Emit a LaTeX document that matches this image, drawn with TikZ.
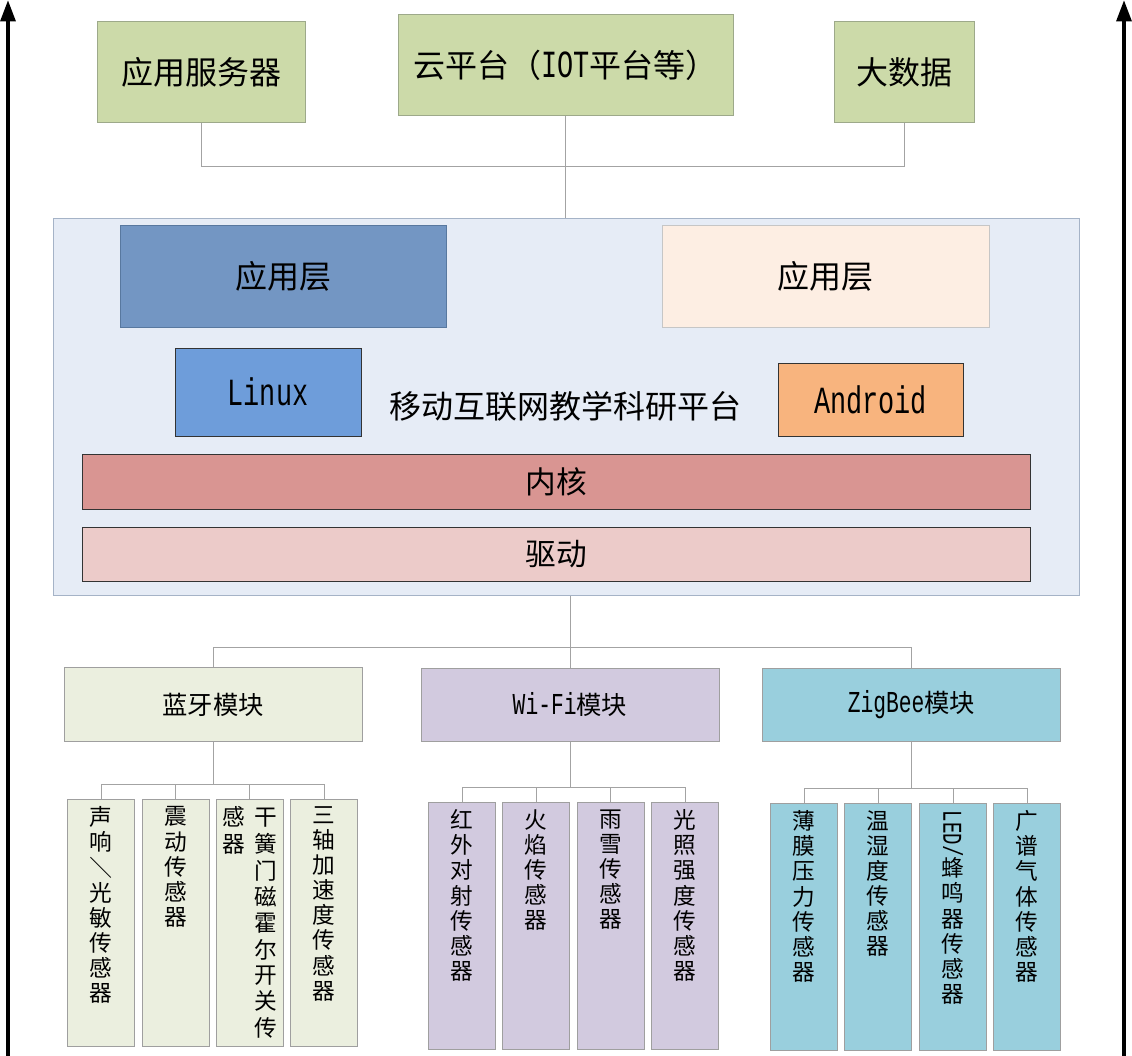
\documentclass[tikz,border=0pt]{standalone}
\usepackage{fontspec}
\setmainfont{Noto Sans CJK SC}
\newfontfamily\latin[FakeStretch=0.7,Scale=1.2]{Liberation Mono}
\usetikzlibrary{arrows.meta,positioning}
\definecolor{topgreen}{HTML}{CCDAA9}
\definecolor{topline}{HTML}{9DA98A}
\definecolor{platbg}{HTML}{E6ECF6}
\definecolor{platline}{HTML}{A5B3C7}
\definecolor{appblue}{HTML}{7396C3}
\definecolor{appblueline}{HTML}{58789F}
\definecolor{apppeach}{HTML}{FDEEE3}
\definecolor{linuxblue}{HTML}{6E9DDA}
\definecolor{androidorange}{HTML}{F8B47E}
\definecolor{kernelred}{HTML}{D99592}
\definecolor{driverpink}{HTML}{ECCBC9}
\definecolor{btgreen}{HTML}{EBEFDF}
\definecolor{wifipurple}{HTML}{D2CADF}
\definecolor{zbcyan}{HTML}{99CFDD}
\definecolor{linkgray}{HTML}{A3A3A3}
\begin{document}
\begin{tikzpicture}[x=0.75pt,y=-0.75pt,
  block/.style={draw=gray!75,line width=0.75pt,inner sep=0pt,align=center},
  darkblock/.style={block,draw=black!80},
  bigfont/.style={font=\fontsize{24}{28}\selectfont},
  module/.style={block,minimum width=223.5pt,minimum height=55pt,font=\fontsize{19}{22}\selectfont},
  sensor/.style={block,minimum width=50.25pt,minimum height=185.25pt},
  vtext/.style={anchor=north,inner sep=0pt,align=center,font=\fontsize{17}{18.8}\selectfont},
  link/.style={draw=linkgray,line width=0.75pt},
  axisarrow/.style={line width=3pt,-{Triangle[width=11pt,length=16pt]}}]
\useasboundingbox (0,0) rectangle (1132,1056);
% side arrows
\coordinate (lb) at (8,1056); \coordinate (lt) at (8,0);
\coordinate (rb) at (1124,1056); \coordinate (rt) at (1124,0);
\draw[axisarrow] (lb) -- (lt);
\draw[axisarrow] (rb) -- (rt);
% top row
\node[block,draw=topline,fill=topgreen,bigfont,minimum width=156pt,minimum height=75.75pt] (srv) at (201,72.5) {应用服务器};
\node[block,draw=topline,fill=topgreen,bigfont,minimum width=251.25pt,minimum height=75.75pt] (cloud) at (565.5,65.5) {云平台（{\latin IOT}平台等）};
\node[block,draw=topline,fill=topgreen,bigfont,minimum width=105pt,minimum height=75.75pt] (data) at (904,72.5) {大数据};
% platform
\node[block,draw=platline,fill=platbg,minimum width=769.5pt,minimum height=282.75pt] (plat) at (566,406.5) {};
\node[block,draw=appblueline,fill=appblue,bigfont,minimum width=244.5pt,minimum height=76.5pt] (appl) at (283,276) {应用层};
\node[block,draw=gray!45,fill=apppeach,bigfont,minimum width=245.25pt,minimum height=76.5pt] (appr) at (825.5,276) {应用层};
\node[darkblock,fill=linuxblue,bigfont,minimum width=139.5pt,minimum height=66pt] (linux) at (268,392) {\latin Linux};
\node[darkblock,fill=androidorange,bigfont,minimum width=138.75pt,minimum height=54.75pt] (android) at (870.5,399.5) {\latin Android};
\node[bigfont,inner sep=0pt] (title) at (565,406) {移动互联网教学科研平台};
\node[darkblock,fill=kernelred,font=\fontsize{23}{27}\selectfont,minimum width=711pt,minimum height=41.25pt] (kernel) at (556,481.5) {内核};
\node[darkblock,fill=driverpink,font=\fontsize{23}{27}\selectfont,minimum width=711pt,minimum height=40.5pt] (driver) at (556,554) {驱动};
\draw[link] (srv.south) -- ++(0,43) -| (data.south);
\draw[link] (cloud.south) -- (cloud.south |- plat.north);
% modules
\node[module,fill=btgreen] (bt) at (213,704.5) {蓝牙模块};
\node[module,fill=wifipurple] (wifi) at (570,705) {{\latin Wi-Fi}模块};
\node[module,fill=zbcyan] (zb) at (911.5,705) {{\latin ZigBee}模块};
\draw[link] (wifi.north) -- (wifi.north |- plat.south);
\draw[link] (bt.north) -- ++(0,-20) -| (zb.north);
% sensors
\foreach \n/\x/\t in {b1/101/{声\\响\\\rotatebox[origin=c]{-90}{／}\\光\\敏\\传\\感\\器},
    b2/175.5/{震\\动\\传\\感\\器},
    b3/249.5/{\begin{tabular}[t]{@{}c@{\hspace{7pt}}c@{}}感&干\\器&簧\\&门\\&磁\\&霍\\&尔\\&开\\&关\\&传\end{tabular}},
    b4/324/{三\\轴\\加\\速\\度\\传\\感\\器}}{
  \node[sensor,fill=btgreen] (\n) at (\x,922.5) {};
  \node[vtext] at ([yshift=-6pt]\n.north) {\t};
}
\foreach \n/\x/\t in {w1/462/{红\\外\\对\\射\\传\\感\\器},
    w2/536/{火\\焰\\传\\感\\器},
    w3/610.5/{雨\\雪\\传\\感\\器},
    w4/685/{光\\照\\强\\度\\传\\感\\器}}{
  \node[sensor,fill=wifipurple] (\n) at (\x,925.5) {};
  \node[vtext] at ([yshift=-6pt]\n.north) {\t};
}
\foreach \n/\x/\t in {z1/804/{薄\\膜\\压\\力\\传\\感\\器},
    z2/878/{温\\湿\\度\\传\\感\\器},
    z3/953/{\rotatebox[origin=c]{-90}{\latin LED/}\\蜂\\鸣\\器\\传\\感\\器},
    z4/1027/{广\\谱\\气\\体\\传\\感\\器}}{
  \node[sensor,fill=zbcyan] (\n) at (\x,926.5) {};
  \node[vtext] at ([yshift=-6pt]\n.north) {\t};
}
\draw[link] (b1.north) -- ++(0,-14) coordinate (btbus) -| (b4.north);
\draw[link] (w1.north) -- ++(0,-14) coordinate (wifibus) -| (w4.north);
\draw[link] (z1.north) -- ++(0,-14) coordinate (zbbus) -| (z4.north);
\foreach \i in {2,3}{
  \draw[link] (b\i.north) -- (b\i.north |- btbus);
  \draw[link] (w\i.north) -- (w\i.north |- wifibus);
  \draw[link] (z\i.north) -- (z\i.north |- zbbus);
}
\draw[link] (bt.south) -- (bt.south |- btbus);
\draw[link] (wifi.south) -- (wifi.south |- wifibus);
\draw[link] (zb.south) -- (zb.south |- zbbus);
\end{tikzpicture}
\end{document}
